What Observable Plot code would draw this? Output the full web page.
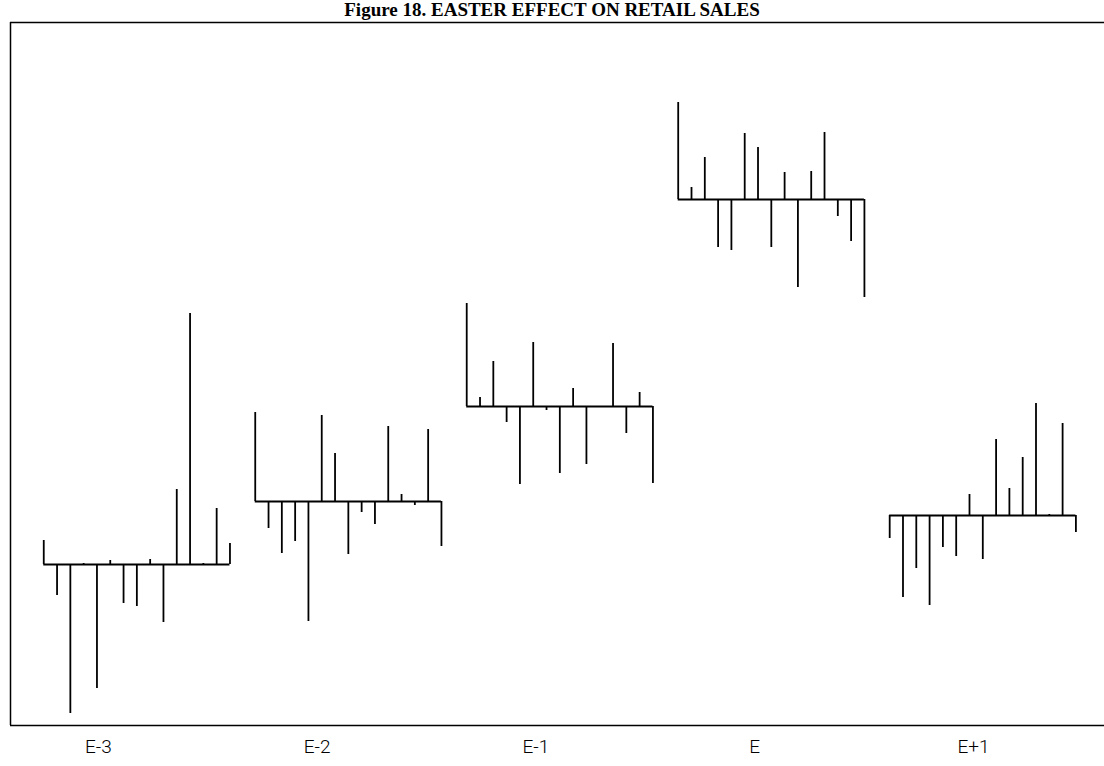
<!DOCTYPE html>
<html>
<head>
<meta charset="utf-8">
<script src="https://cdn.jsdelivr.net/npm/d3@7"></script>
<script src="https://cdn.jsdelivr.net/npm/@observablehq/plot@0.6"></script>
<style>
  html, body { margin: 0; padding: 0; background: #fff; }
  #title { width: 1104px; height: 18px; text-align: center;
    font: bold 19px "Liberation Serif", "Times New Roman", serif; line-height: 18px; color: #000;
    padding-top: 1px; box-sizing: border-box; white-space: nowrap; }
</style>
</head>
<body>
<div id="title">Figure 18. EASTER EFFECT ON RETAIL SALES</div>
<div id="chart"></div>
<script>
// Groups (months relative to Easter) and their average level
const groups = ["E-3", "E-2", "E-1", "E", "E+1"];
const levels = [16.1, 22.4, 31.9, 52.6, 21.0];

// Year-by-year deviations around each group's level (15 years each)
const devE3 = [2.4, -3.1, -14.9, 0.1, -12.4, 0.4, -3.9, -4.2, 0.5, -5.8, 7.5, 25.1, 0.1, 5.6, 2.1];
const devE2 = [8.9, -2.7, -5.2, -4.0, -12.0, 8.6, 4.8, -5.3, -1.1, -2.3, 7.5, 0.7, -0.4, 7.2, -4.5];
const devE1 = [10.3, 0.9, 4.5, -1.6, -7.8, 6.4, -0.4, -6.7, 1.8, -5.8, 0.0, 6.3, -2.7, 1.4, -7.7];
const devE  = [9.7, 1.2, 4.2, -4.8, -5.1, 6.6, 5.2, -4.8, 2.7, -8.8, 2.8, 6.7, -1.7, -4.2, -9.8];
const devE4 = [-2.3, -8.2, -5.3, -9.0, -3.2, -4.1, 2.1, -4.4, 7.6, 2.7, 5.8, 11.2, 0.1, 9.2, -1.7];
const deviations = [devE3, devE2, devE1, devE, devE4];

// layout constants
const groupStep = 15.9;
const labelPos = g => 4.1 + g * 16.45;

const spikes = [];
deviations.forEach((arr, g) => arr.forEach((d, i) => {
  spikes.push({group: groups[g], x: g * groupStep + i, base: levels[g], top: levels[g] + d});
}));
const baselines = groups.map((name, g) => ({group: name, x1: g * groupStep, x2: g * groupStep + 14, y: levels[g]}));

const xMin = -2.5, xMax = 79.75, yMin = 0, yMax = 70.3;

const chart = Plot.plot({
  width: 1104,
  height: 748,
  marginLeft: 10,
  marginRight: 0,
  marginTop: 4,
  marginBottom: 41,
  style: {fontFamily: "Roboto, 'DejaVu Sans', sans-serif", fontSize: "19px", fontWeight: 300, color: "#000", background: "#fff"},
  x: {
    domain: [xMin, xMax],
    ticks: groups.map((_, g) => labelPos(g)),
    tickFormat: (d) => groups[groups.findIndex((_, g) => Math.abs(labelPos(g) - d) < 1e-6)],
    tickSize: 0,
    tickPadding: 14,
    label: null
  },
  y: {domain: [yMin, yMax], axis: null},
  marks: [
    Plot.ruleX([xMin], {stroke: "#000", strokeWidth: 1.5}),
    Plot.ruleY([yMin], {stroke: "#000", strokeWidth: 1.5}),
    Plot.ruleY([yMax], {stroke: "#000", strokeWidth: 1.5}),
    Plot.ruleY(baselines, {y: "y", x1: "x1", x2: "x2", stroke: "#000", strokeWidth: 2}),
    Plot.ruleX(spikes, {x: "x", y1: "base", y2: "top", stroke: "#000", strokeWidth: 1.8})
  ]
});
document.getElementById("chart").appendChild(chart);
</script>
</body>
</html>
